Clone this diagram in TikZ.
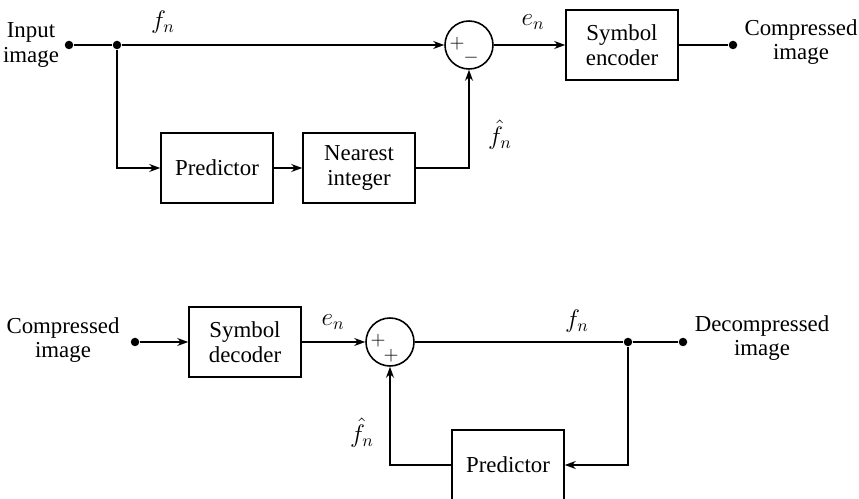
\documentclass[tikz,border=0pt]{standalone}
\usepackage{amsmath}
\usepackage{fontspec}
\setmainfont{Liberation Serif}
\usetikzlibrary{arrows.meta, positioning, calc}

\begin{document}
\begin{tikzpicture}[x=0.02cm, y=-0.02cm,
	blk/.style={draw, line width=0.9pt, minimum width=2.24cm, minimum height=1.4cm,
		align=center, inner sep=1pt, font=\fontsize{13}{14}\selectfont},
	sumc/.style={draw, line width=0.9pt, circle, minimum size=0.96cm, inner sep=0pt},
	jdot/.style={circle, fill, inner sep=0pt, minimum size=0.17cm},
	lbl/.style={align=center, font=\fontsize{13}{14}\selectfont},
	sig/.style={font=\fontsize{14}{16}\selectfont, inner sep=1pt},
	pm/.style={font=\fontsize{11}{12}\selectfont, inner sep=0pt},
	arr/.style={-{Stealth[length=0.22cm, width=0.16cm]}},
	every path/.style={line width=0.8pt}]
	\useasboundingbox (0,0) rectangle (859,499);

	% compression (encoder)
	\node[lbl] (inlbl) at (31,45) {Input\\image};
	\node[jdot] (in) at (69,45) {};
	\node[jdot] (split) at (117,45) {};
	\node[sumc] (sum1) at (469,45) {};
	\node[blk] (enc) at (622,45) {Symbol\\encoder};
	\node[jdot] (out) at (733,45) {};
	\node[lbl] (outlbl) at (801,42) {Compressed\\image};
	\node[blk] (pred1) at (217,168) {Predictor};
	\node[blk] (nint) at (359,168) {Nearest\\integer};

	\draw (in) -- (split);
	\draw[arr] (split) -- (sum1);
	\draw[arr] (split) |- (pred1);
	\draw[arr] (pred1) -- (nint);
	\draw[arr] (nint) -| (sum1);
	\draw[arr] (sum1) -- (enc);
	\draw (enc) -- (out);

	\node[sig] (fn1) at (163,22) {$f_n$};
	\node[sig] (en1) at (533,22) {$e_n$};
	\node[sig] (fh1) at (500,135) {$\hat{f}_n$};
	\node[pm] (plus1) at ($(sum1)+(-12,-1)$) {$+$};
	\node[pm] (minus1) at ($(sum1)+(2,13)$) {$-$};

	% decompression (decoder)
	\node[lbl] (inlbl2) at (63,340) {Compressed\\image};
	\node[jdot] (in2) at (135,342) {};
	\node[blk] (dec) at (245,342) {Symbol\\decoder};
	\node[sumc] (sum2) at (390,342) {};
	\node[jdot] (split2) at (628,342) {};
	\node[jdot] (out2) at (683,342) {};
	\node[lbl] (outlbl2) at (762,338) {Decompressed\\image};
	\node[blk] (pred2) at (508,465) {Predictor};

	\draw[arr] (in2) -- (dec);
	\draw[arr] (dec) -- (sum2);
	\draw (sum2) -- (split2) -- (out2);
	\draw[arr] (split2) |- (pred2);
	\draw[arr] (pred2) -| (sum2);

	\node[sig] (en2) at (333,322) {$e_n$};
	\node[sig] (fn2) at (577,321) {$f_n$};
	\node[sig] (fh2) at (362,433) {$\hat{f}_n$};
	\node[pm] (plus2) at ($(sum2)+(-12,-1)$) {$+$};
	\node[pm] (plus3) at ($(sum2)+(1,14)$) {$+$};
\end{tikzpicture}
\end{document}
